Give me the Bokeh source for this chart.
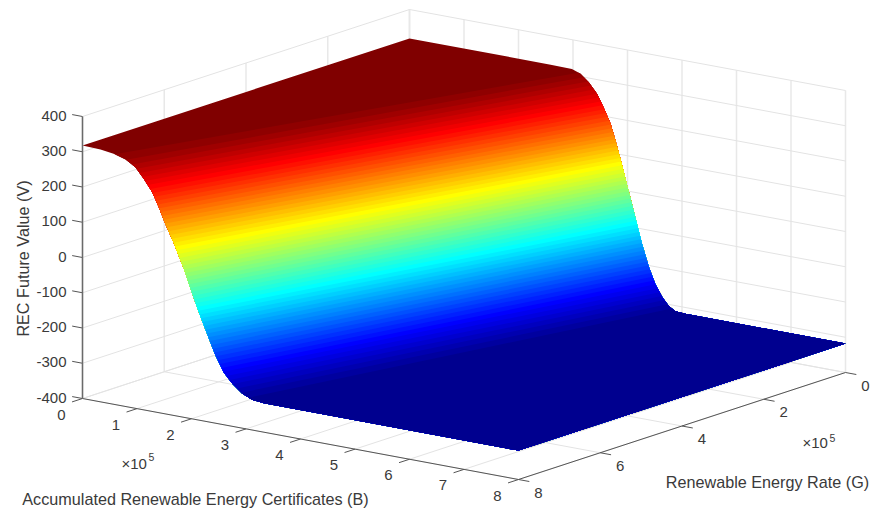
import numpy as np
from bokeh.plotting import figure
from bokeh.models import Range1d
from bokeh.core.properties import value
from bokeh.embed import file_html
from bokeh.resources import INLINE

# ---- data (B, G in units of 1e5) ----
B_ticks = [0, 1, 2, 3, 4, 5, 6, 7, 8]
G_ticks = [0, 2, 4, 6, 8]
V_ticks = [-400, -300, -200, -100, 0, 100, 200, 300, 400]

# surface profile along the edge G = 8e5
B_at_G8 = [0.0, 0.33, 0.57, 0.79, 0.97, 1.12, 1.28, 1.40, 1.52, 1.68, 1.86, 2.01, 2.17,
           2.32, 2.44, 2.59, 2.75, 2.93, 3.11, 3.33, 8.0]
V_at_G8 = [318, 316, 311, 301, 284, 256, 222, 183, 139, 87, 21, -44, -108,
           -164, -208, -251, -279, -302, -314, -318, -318]
# surface profile along the edge G = 0
B_at_G0 = [0.0, 2.59, 2.98, 3.14, 3.29, 3.44, 3.56, 3.69, 3.78, 3.87, 3.96, 4.02, 4.15, 4.27,
           4.39, 4.51, 4.64, 4.76, 4.88, 5.06, 8.0]
V_at_G0 = [318, 318, 317, 308, 288, 260, 225, 182, 137, 88, 36, 1, -74, -143,
           -203, -249, -283, -305, -316, -318, -318]

CLIM = (-320, 320)
NLEVELS = 64

XLABEL = "Accumulated Renewable Energy Certificates (B)"
YLABEL = "Renewable Energy Rate (G)"
ZLABEL = "REC Future Value (V)"

# ---- orthographic camera, in picture pixels ----
O = np.array([409.0, 291.0])          # B=0, G=0, V=-400
EB = np.array([54.5, 10.125])         # per 1e5 of B
EG = np.array([-40.875, 13.375])      # per 1e5 of G
EV = np.array([0.0, -0.3525])         # per unit of V


def P(b, g, v):
    return O + EB * b + EG * g + EV * (v + 400)


def jet(i):
    x = (i + 1) / NLEVELS
    r = np.clip(min(4 * x - 1.5, -4 * x + 4.5), 0, 1)
    g = np.clip(min(4 * x - 0.5, -4 * x + 3.5), 0, 1)
    b = np.clip(min(4 * x + 0.5, -4 * x + 2.5), 0, 1)
    return "#%02x%02x%02x" % (round(r * 255), round(g * 255), round(b * 255))


p = figure(width=873, height=514, x_range=Range1d(0, 873), y_range=Range1d(514, 0),
           output_backend="svg", toolbar_location=None,
           x_axis_location=None, y_axis_location=None, min_border=0)
p.grid.visible = False
p.outline_line_color = None
p.background_fill_color = "white"

GRID = "#e3e3e3"
AXIS = "#555555"
TXT = "#3a3a3a"
FONT = value("Liberation Sans")


def seg(a, b, xs, ys):
    xs.append([a[0], b[0]])
    ys.append([a[1], b[1]])


# ---- grid ----
gx, gy = [], []   # lines on the floor and horizontal lines on the walls
wx, wy = [], []   # vertical lines on the walls
Vmin, Vmax = V_ticks[0], V_ticks[-1]
Bmax, Gmax = B_ticks[-1], G_ticks[-1]
for b in B_ticks:
    seg(P(b, 0, Vmin), P(b, 0, Vmax), wx, wy)
    seg(P(b, 0, Vmin), P(b, Gmax, Vmin), gx, gy)
for g in G_ticks:
    seg(P(0, g, Vmin), P(0, g, Vmax), wx, wy)
    seg(P(0, g, Vmin), P(Bmax, g, Vmin), gx, gy)
for v in V_ticks:
    seg(P(0, 0, v), P(Bmax, 0, v), gx, gy)
    seg(P(0, 0, v), P(0, Gmax, v), gx, gy)
p.multi_line(wx, wy, line_color="#e8e8e8", line_width=1.5)
p.multi_line(gx, gy, line_color=GRID, line_width=1)

# ---- surface: one polygon per colour level, painted from the top down ----
b8, v8 = np.array(B_at_G8), np.array(V_at_G8, float)
b0, v0 = np.array(B_at_G0), np.array(V_at_G0, float)


def edge_below(bs, vs, level, g):
    """Edge points with V below level, starting from the crossing."""
    mask = vs < level
    pts = []
    if not mask.all():
        cross = np.interp(-level, -vs, bs)
        pts.append((cross, level))
    pts += [(b, v) for b, v, m in zip(bs, vs, mask) if m]
    return [P(b, g, v) for b, v in pts]


px, py, pc = [], [], []
step = (CLIM[1] - CLIM[0]) / NLEVELS
for i in range(NLEVELS - 1, -1, -1):
    level = CLIM[0] + (i + 1) * step
    e8 = edge_below(b8, v8, level, Gmax)
    e0 = edge_below(b0, v0, level, 0)
    if not e8 or not e0:
        continue
    poly = e8 + e0[::-1]
    px.append([q[0] for q in poly])
    py.append([q[1] for q in poly])
    pc.append(jet(i))
p.patches(px, py, fill_color=pc, line_color=None)

# ---- axes ----
ax, ay = [], []
seg(P(0, Gmax, Vmin), P(Bmax, Gmax, Vmin), ax, ay)
seg(P(Bmax, Gmax, Vmin), P(Bmax, 0, Vmin), ax, ay)
tb = EB / np.linalg.norm(EB)
tg = EG / np.linalg.norm(EG)
for v in V_ticks:
    a = P(0, Gmax, v)
    seg(a, a - tb * 10.5, ax, ay)
for b in B_ticks:
    a = P(b, Gmax, Vmin)
    seg(a, a + tg * 11, ax, ay)
for g in G_ticks:
    a = P(Bmax, g, Vmin)
    seg(a, a + tb * 11, ax, ay)
p.multi_line(ax, ay, line_color=AXIS, line_width=1)
zbot, ztop = P(0, Gmax, Vmin), P(0, Gmax, Vmax)
p.line([zbot[0], ztop[0]], [zbot[1], ztop[1]], line_color="#6a6a6a", line_width=1.5)


def texts(xs, ys, labels, size="15px", align="center", angle=0.0):
    p.text(xs, ys, text=labels, text_font=FONT, text_font_size=size, text_color=TXT,
           text_align=align, text_baseline="middle", angle=angle)


zp = [P(0, Gmax, v) for v in V_ticks]
texts([q[0] - 16 for q in zp], [q[1] - 1 for q in zp], [str(v) for v in V_ticks], align="right")
bp = [P(b, Gmax, Vmin) for b in B_ticks]
texts([q[0] - 21 for q in bp], [q[1] + 16 for q in bp], [str(b) for b in B_ticks])
gp = [P(Bmax, g, Vmin) for g in G_ticks]
texts([q[0] + 20 for q in gp], [q[1] + 13 for q in gp], [str(g) for g in G_ticks])

# multipliers
texts([121], [462.5], ["\u00d710"], align="left")
texts([148], [456.5], ["5"], size="10.5px", align="left")
texts([802], [442], ["\u00d710"], align="left")
texts([829], [437], ["5"], size="10.5px", align="left")

# titles
texts([195], [498], [XLABEL], size="16.2px")
texts([767], [481], [YLABEL], size="16.2px")
texts([22], [258], [ZLABEL], size="16.2px", angle=np.pi / 2)

open("out.html", "w").write(file_html(p, INLINE))
